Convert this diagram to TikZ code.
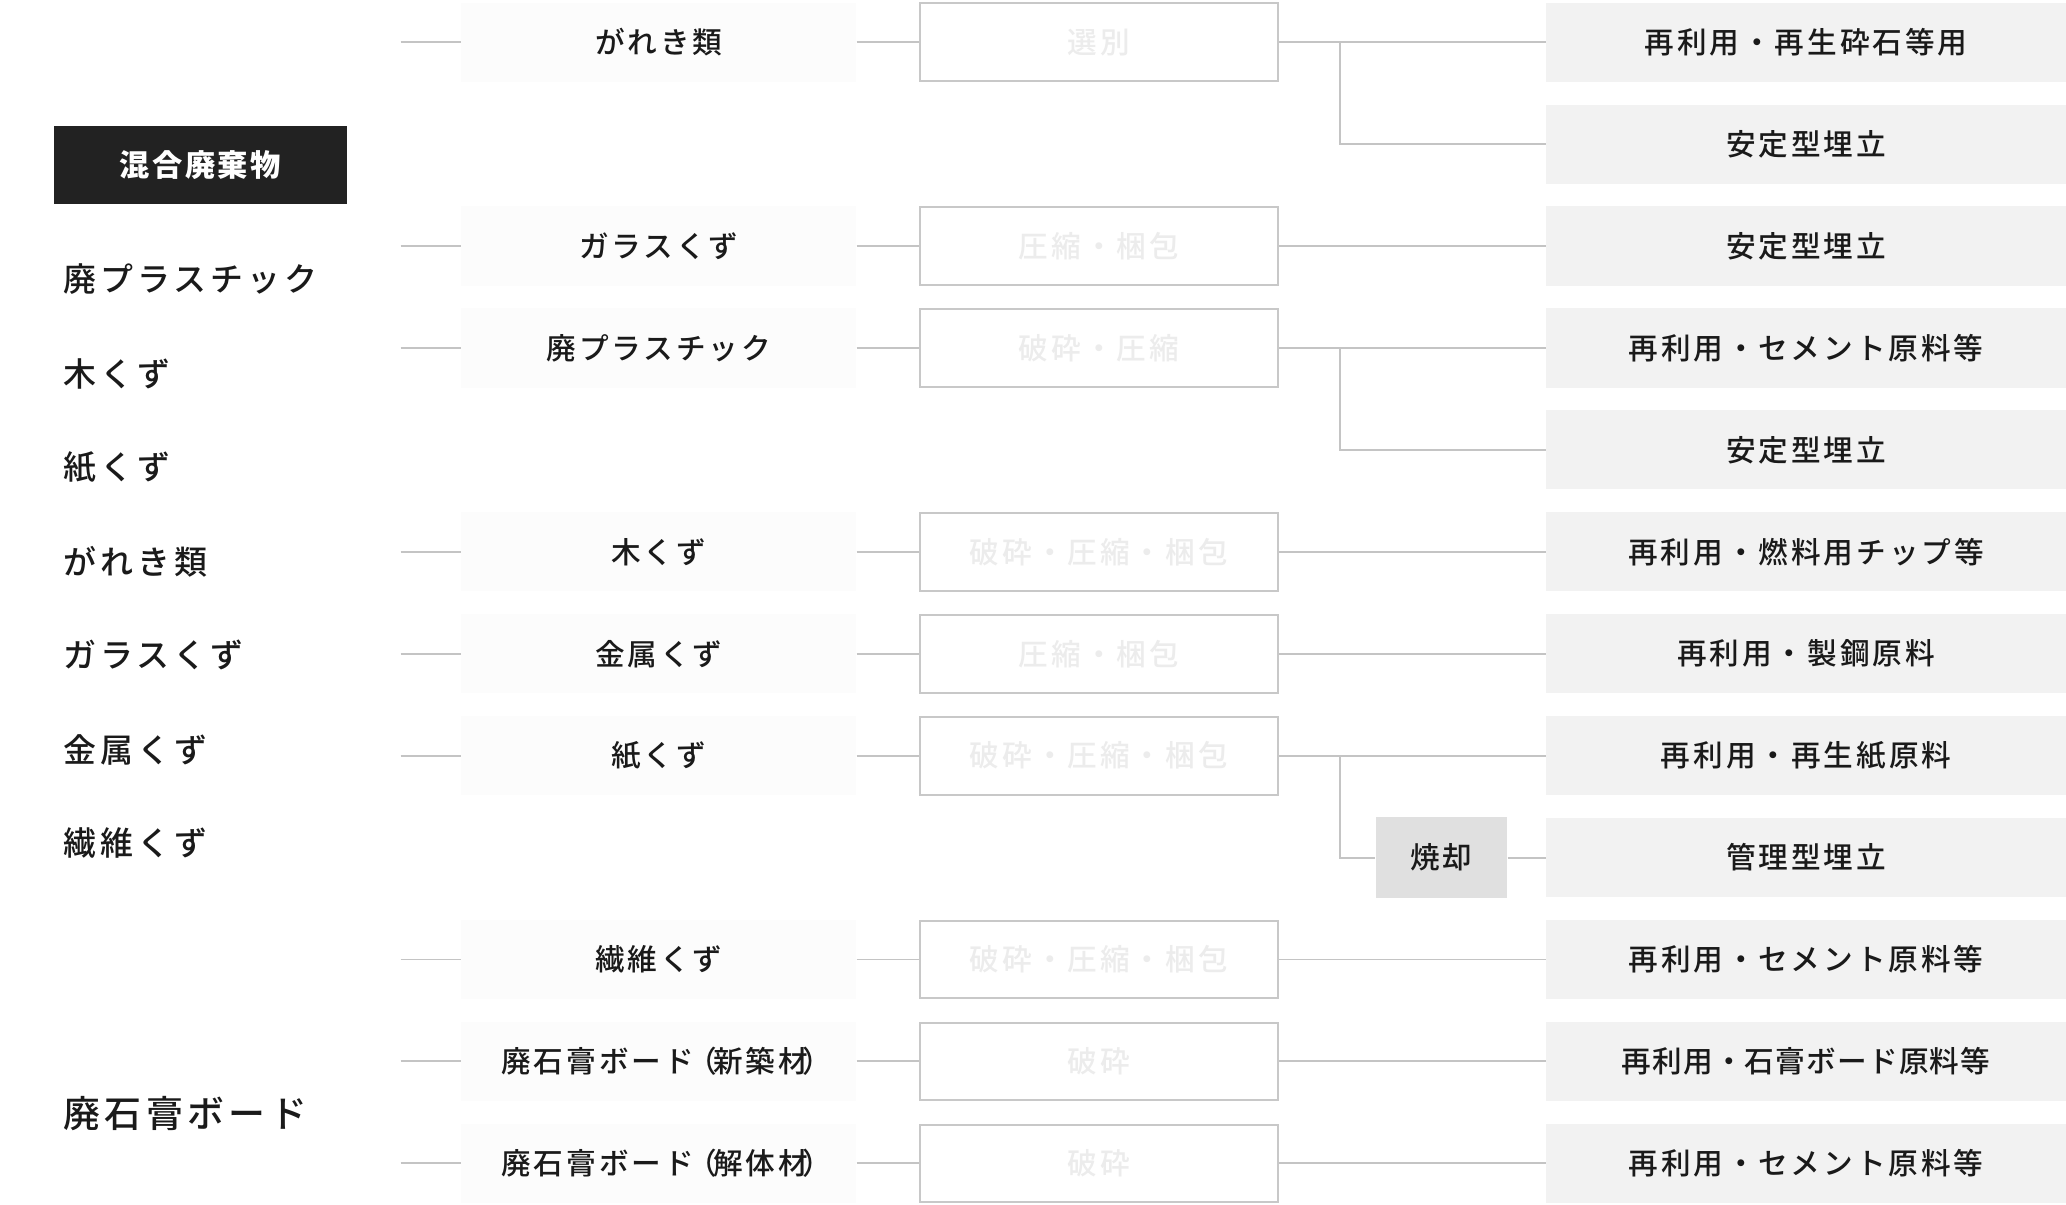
\documentclass[tikz,border=0pt]{standalone}
\usepackage{fontspec}
\IfFontExistsTF{Noto Sans CJK JP Medium}{%
  \newfontfamily\jpA[LetterSpace=10]{Noto Sans CJK JP Medium}%
  \newfontfamily\jpC[LetterSpace=4]{Noto Sans CJK JP Medium}%
  \newfontfamily\jpL[LetterSpace=12]{Noto Sans CJK JP Medium}%
}{%
  \newfontfamily\jpA[LetterSpace=10,FakeBold=0.6]{Noto Sans CJK JP}%
  \newfontfamily\jpC[LetterSpace=4,FakeBold=0.6]{Noto Sans CJK JP}%
  \newfontfamily\jpL[LetterSpace=12,FakeBold=0.6]{Noto Sans CJK JP}%
}
\newfontfamily\jpB[LetterSpace=8]{Noto Sans CJK JP}
\newcommand\lpar{\kern-5pt（\kern-3pt}
\newcommand\rpar{\kern-4pt）\kern-12pt}
\definecolor{linecol}{HTML}{C4C4C4}
\definecolor{procline}{HTML}{C8C8C8}
\definecolor{proctext}{HTML}{ECECEC}
\definecolor{outfill}{HTML}{F2F2F2}
\definecolor{burnfill}{HTML}{E0E0E0}
\definecolor{blackfill}{HTML}{222222}
\definecolor{txt}{HTML}{1A1A1A}
\definecolor{midfill}{HTML}{FCFCFC}
\begin{document}
\begin{tikzpicture}[x=1pt,y=-1pt,
  outbox/.style={fill=outfill, minimum width=395pt, minimum height=60pt, inner sep=0pt, anchor=west, text=txt, font=\jpA\fontsize{22.5}{26}\selectfont},
  tightfont/.style={font=\jpC\fontsize{22.5}{26}\selectfont},
  procbox/.style={draw=procline, line width=1.5pt, fill=white, minimum width=272pt, minimum height=59pt, inner sep=0pt, text=proctext, font=\jpA\fontsize{22.5}{26}\selectfont},
  midbox/.style={fill=midfill, minimum width=300pt, minimum height=60pt, inner sep=0pt, text=txt, font=\jpA\fontsize{22.5}{26}\selectfont},
  burnbox/.style={fill=burnfill, minimum width=100pt, minimum height=62pt, inner sep=0pt, text=txt, font=\jpA\fontsize{22.5}{26}\selectfont},
  blackbox/.style={fill=blackfill, minimum width=222pt, minimum height=59pt, inner sep=0pt, text=white, font=\jpB\bfseries\fontsize{23}{26}\selectfont},
  leftlbl/.style={anchor=west, inner sep=0pt, text=txt, font=\jpL\fontsize{25}{28}\selectfont},
  gyplbl/.style={anchor=west, inner sep=0pt, text=txt, font=\jpL\fontsize{28}{32}\selectfont},
  conn/.style={draw=linecol, line width=1.5pt}
]
\useasboundingbox (0,0) rectangle (1568,914);

% left column
\node[blackbox] (mix) at (152,125.5) {混合廃棄物};
\node[leftlbl] (l1) at (48,212) {廃プラスチック};
\node[leftlbl] (l2) at (48,284) {木くず};
\node[leftlbl] (l3) at (48,355) {紙くず};
\node[leftlbl] (l4) at (48,426) {がれき類};
\node[leftlbl] (l5) at (48,497) {ガラスくず};
\node[leftlbl] (l6) at (48,569) {金属くず};
\node[leftlbl] (l7) at (48,640) {繊維くず};
\node[gyplbl] (l8) at (48,845) {廃石膏ボード};

% output boxes
\node[outbox] (o1) at (1173,32) {再利用・再生砕石等用};
\node[outbox] (o2) at (1173,109.4) {安定型埋立};
\node[outbox] (o3) at (1173,186.7) {安定型埋立};
\node[outbox] (o4) at (1173,264.1) {再利用・セメント原料等};
\node[outbox] (o5) at (1173,341.4) {安定型埋立};
\node[outbox] (o6) at (1173,418.8) {再利用・燃料用チップ等};
\node[outbox] (o7) at (1173,496.2) {再利用・製鋼原料};
\node[outbox] (o8) at (1173,573.5) {再利用・再生紙原料};
\node[outbox] (o9) at (1173,650.9) {管理型埋立};
\node[outbox] (o10) at (1173,728.2) {再利用・セメント原料等};
\node[outbox, tightfont] (o11) at (1173,805.6) {再利用・石膏ボード原料等};
\node[outbox] (o12) at (1173,883) {再利用・セメント原料等};

% middle labels
\node[midbox] (m1) at (500,32) {がれき類};
\node[midbox] (m3) at (500,186.7) {ガラスくず};
\node[midbox] (m4) at (500,264.1) {廃プラスチック};
\node[midbox] (m6) at (500,418.8) {木くず};
\node[midbox] (m7) at (500,496.2) {金属くず};
\node[midbox] (m8) at (500,573.5) {紙くず};
\node[midbox] (m10) at (500,728.2) {繊維くず};
\node[midbox] (m11) at (500,805.6) {廃石膏ボード\lpar 新築材\rpar};
\node[midbox] (m12) at (500,883) {廃石膏ボード\lpar 解体材\rpar};

% process boxes
\node[procbox] (p1) at (834,32) {選別};
\node[procbox] (p3) at (834,186.7) {圧縮・梱包};
\node[procbox] (p4) at (834,264.1) {破砕・圧縮};
\node[procbox] (p6) at (834,418.8) {破砕・圧縮・梱包};
\node[procbox] (p7) at (834,496.2) {圧縮・梱包};
\node[procbox] (p8) at (834,573.5) {破砕・圧縮・梱包};
\node[procbox] (p10) at (834,728.2) {破砕・圧縮・梱包};
\node[procbox] (p11) at (834,805.6) {破砕};
\node[procbox] (p12) at (834,883) {破砕};

\node[burnbox] (burn) at (1094,650.9) {焼却};

% start points of the short left connectors and branch points
\foreach \r/\y in {1/32,3/186.7,4/264.1,6/418.8,7/496.2,8/573.5,10/728.2,11/805.6,12/883}{
  \coordinate (s\r) at (304,\y);
  \coordinate (b\r) at (1017,\y);
}

% connectors
\foreach \r in {1,3,4,6,7,8,10,11,12}{
  \draw[conn] (s\r) -- (m\r.west);
  \draw[conn] (m\r.east) -- (p\r.west);
  \draw[conn] (p\r.east) -- (o\r.west);
}
\draw[conn] (b1) |- (o2.west);
\draw[conn] (b4) |- (o5.west);
\draw[conn] (b8) |- (burn.west);
\draw[conn] (burn.east) -- (o9.west);
\end{tikzpicture}
\end{document}
